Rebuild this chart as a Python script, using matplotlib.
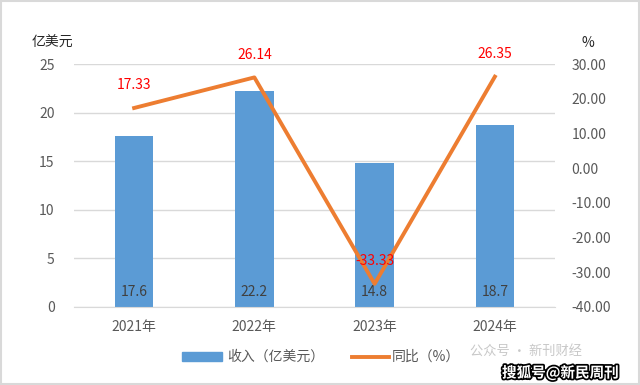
import matplotlib.pyplot as plt
import numpy as np
import matplotlib.patheffects as pe

plt.rcParams['font.family'] = ['Noto Sans CJK SC', 'DejaVu Sans']

years = ['2021年', '2022年', '2023年', '2024年']
revenue = [17.6, 22.2, 14.8, 18.7]
yoy = [17.33, 26.14, -33.33, 26.35]

BLUE = '#5B9BD5'
ORANGE = '#ED7D31'
GRAY = '#595959'

fig = plt.figure(figsize=(6.4, 3.85), dpi=100)
ax = fig.add_axes([74/640, 1-307/385, (555-74)/640, (307-64)/385])
x = np.arange(len(years))
ax.bar(x, revenue, width=0.32, color=BLUE, zorder=2)
ax.set_xlim(-0.5, 3.5)
ax.set_ylim(0, 25)
ax.set_yticks(range(0, 26, 5))
ax.grid(axis='y', color='#D9D9D9', linewidth=1, zorder=0)
ax.set_xticks(x)
ax.set_xticklabels(years)
for s in ax.spines.values():
    s.set_visible(False)
ax.spines['bottom'].set_visible(True)
ax.spines['bottom'].set_color('#D9D9D9')
ax.tick_params(length=0, colors=GRAY, labelsize=10, pad=9)
ax.tick_params(axis='y', pad=14)
for xi, v in zip(x, revenue):
    ax.text(xi, 0.8, f'{v}', ha='center', va='bottom', fontsize=10, color='#404040', zorder=4)

ax2 = ax.twinx()
ax2.plot(x, yoy, color=ORANGE, linewidth=2.8, zorder=3)
ax2.set_ylim(-40, 30)
ax2.set_yticks(range(-40, 31, 10))
ax2.set_yticklabels([f'{v:.2f}' for v in range(-40, 31, 10)])
for s in ax2.spines.values():
    s.set_visible(False)
ax2.tick_params(length=0, colors=GRAY, labelsize=10, pad=12)
for xi, v in zip(x, yoy):
    ax2.text(xi, v + 4.5, f'{v:.2f}', ha='center', va='bottom', fontsize=10, color='red', zorder=5)

fig.text(52/640, 1-43/385, '亿美元', ha='center', va='center', fontsize=10, color='#262626')
fig.text(588/640, 1-43/385, '%', ha='center', va='center', fontsize=10, color='#262626')

# legend
fig.patches.append(plt.Rectangle((182/640, 1-361/385), 40/640, 9/385, color=BLUE, transform=fig.transFigure))
fig.text(227/640, 1-357/385, '收入（亿美元）', ha='left', va='center', fontsize=10, color=GRAY)
fig.lines.append(plt.Line2D([352/640, 389/640], [1-357/385, 1-357/385], color=ORANGE, linewidth=2.8, transform=fig.transFigure))
fig.text(392/640, 1-357/385, '同比（%）', ha='left', va='center', fontsize=10, color=GRAY)

# watermarks
fig.text(470/640, 1-351/385, '公众号 · 新刊财经', ha='left', va='center', fontsize=9.5, color='#C8C8C8')
fig.text(502/640, 1-373/385, '搜狐号@新民周刊', ha='left', va='center', fontsize=10.5, color='white',
         fontweight='bold', path_effects=[pe.withStroke(linewidth=2.5, foreground='black')])

fig.patches.append(plt.Rectangle((0.002, 0.002), 0.996, 0.996, fill=False, edgecolor='#D9D9D9', linewidth=1.5, transform=fig.transFigure))

fig.savefig('out.png', dpi=100)
